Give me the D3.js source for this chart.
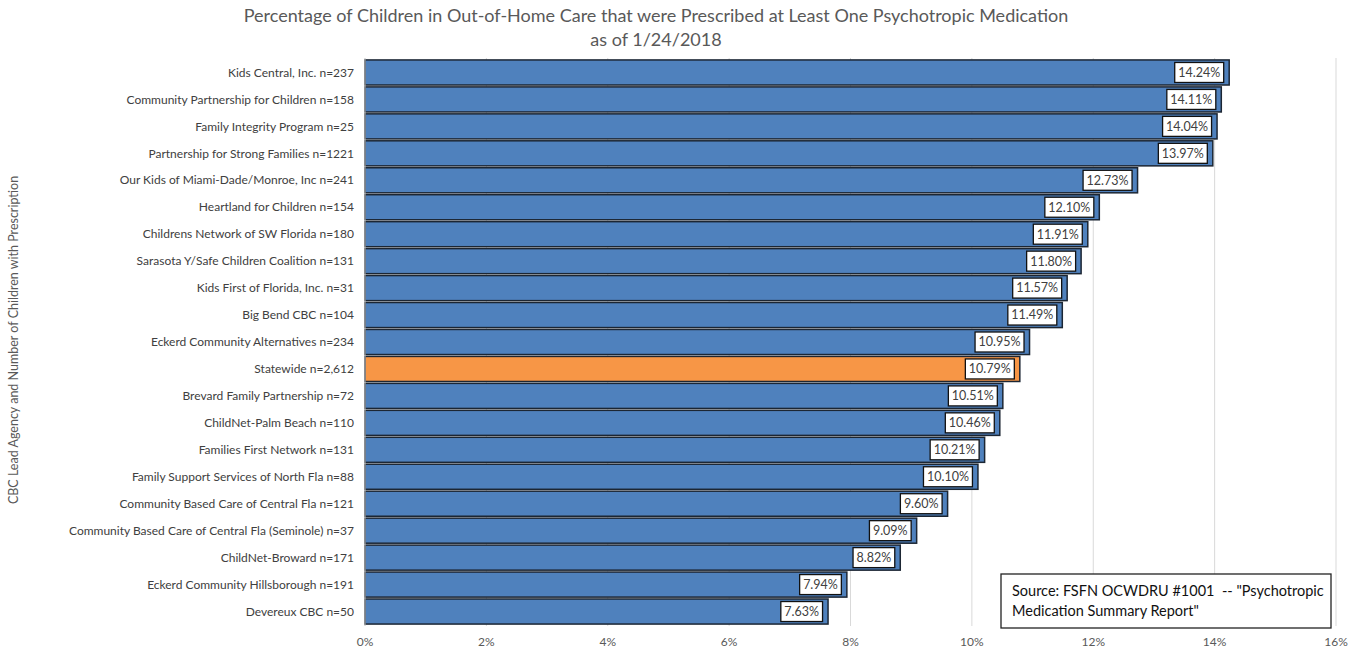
<!DOCTYPE html>
<html><head><meta charset="utf-8">
<script src="https://cdn.jsdelivr.net/npm/d3@7"></script>
<style>body{margin:0;background:#fff}svg{display:block}text{white-space:pre}</style>
</head><body>
<script>
const categories = ["Kids Central, Inc. n=237","Community Partnership for Children n=158","Family Integrity Program n=25","Partnership for Strong Families n=1221","Our Kids of Miami-Dade/Monroe, Inc n=241","Heartland for Children n=154","Childrens Network of SW Florida n=180","Sarasota Y/Safe Children Coalition n=131","Kids First of Florida, Inc. n=31","Big Bend CBC n=104","Eckerd Community Alternatives n=234","Statewide n=2,612","Brevard Family Partnership n=72","ChildNet-Palm Beach n=110","Families First Network n=131","Family Support Services of North Fla n=88","Community Based Care of Central Fla n=121","Community Based Care of Central Fla (Seminole) n=37","ChildNet-Broward n=171","Eckerd Community Hillsborough n=191","Devereux CBC n=50"];
const values = [14.24,14.11,14.04,13.97,12.73,12.10,11.91,11.80,11.57,11.49,10.95,10.79,10.51,10.46,10.21,10.10,9.60,9.09,8.82,7.94,7.63];
const highlight = ["Statewide n=2,612"];
const xTicks = [0,2,4,6,8,10,12,14,16];
const titleLines = ["Percentage of Children in Out-of-Home Care that were Prescribed at Least One Psychotropic Medication","as of 1/24/2018"];
const yTitle = "CBC Lead Agency and Number of Children with Prescription";
const sourceLines = ["Source: FSFN OCWDRU #1001  -- \"Psychotropic","Medication Summary Report\""];

const W=1356,H=649,font="Lato, 'Open Sans', sans-serif";
const svg=d3.select("body").append("svg").attr("width",W).attr("height",H).style("font-family",font);
const x=d3.scaleLinear().domain([0,16]).range([365,1336]);
const y=d3.scaleBand().domain(categories).range([59,625]).paddingInner(0.07).paddingOuter(0.035);

svg.append("g").selectAll("line").data(xTicks.slice(1)).join("line")
  .attr("x1",d=>x(d)).attr("x2",d=>x(d)).attr("y1",58).attr("y2",626)
  .attr("stroke","#d9d9d9").attr("stroke-width",1);

svg.append("g").selectAll("rect").data(categories).join("rect")
  .attr("x",x(0)).attr("y",d=>y(d)).attr("width",(d,i)=>x(values[i])-x(0)).attr("height",y.bandwidth())
  .attr("fill",d=>highlight.includes(d)?"#f79646":"#4f81bd")
  .attr("stroke","#1c2633").attr("stroke-width",1.5);

svg.append("line").attr("x1",x(0)).attr("x2",x(0)).attr("y1",58).attr("y2",626).attr("stroke","#bfbfbf");

const lab=svg.append("g").selectAll("g").data(categories).join("g");
lab.each(function(d,i){
  const g=d3.select(this);
  const xe=x(values[i])-5, cy=y(d)+y.bandwidth()/2;
  const t=g.append("text").attr("x",xe-4).attr("y",cy).attr("dy","0.35em").attr("text-anchor","end")
    .attr("font-size",12.5).attr("fill","#404040").text(values[i].toFixed(2)+"%");
  const bb=t.node().getBBox();
  g.insert("rect","text").attr("x",bb.x-3.5).attr("y",cy-10).attr("width",bb.width+7).attr("height",20)
    .attr("fill","#fff").attr("stroke","#111").attr("stroke-width",1.3);
});

svg.append("g").selectAll("text").data(categories).join("text")
  .attr("x",354).attr("y",d=>y(d)+y.bandwidth()/2).attr("dy","0.35em").attr("text-anchor","end")
  .attr("font-size",12).attr("fill","#404040").text(d=>d);

svg.append("g").selectAll("text").data(xTicks).join("text")
  .attr("x",d=>x(d)).attr("y",646).attr("text-anchor","middle").attr("font-size",12).attr("fill","#595959")
  .text(d=>d+"%");

svg.append("g").selectAll("text").data(titleLines).join("text")
  .attr("x",656).attr("y",(d,i)=>22+i*24).attr("text-anchor","middle").attr("font-size",18).attr("fill","#595959").text(d=>d);

svg.append("text").attr("transform","translate(18,340) rotate(-90)").attr("text-anchor","middle")
  .attr("font-size",12.5).attr("fill","#595959").text(yTitle);

svg.append("rect").attr("x",1001).attr("y",574).attr("width",330).attr("height",54).attr("fill","#fff").attr("stroke","#222").attr("stroke-width",1.3);
svg.append("g").selectAll("text").data(sourceLines).join("text")
  .attr("x",1012).attr("y",(d,i)=>596+i*20).attr("font-size",14.5).attr("fill","#111").text(d=>d);
</script>
</body></html>
